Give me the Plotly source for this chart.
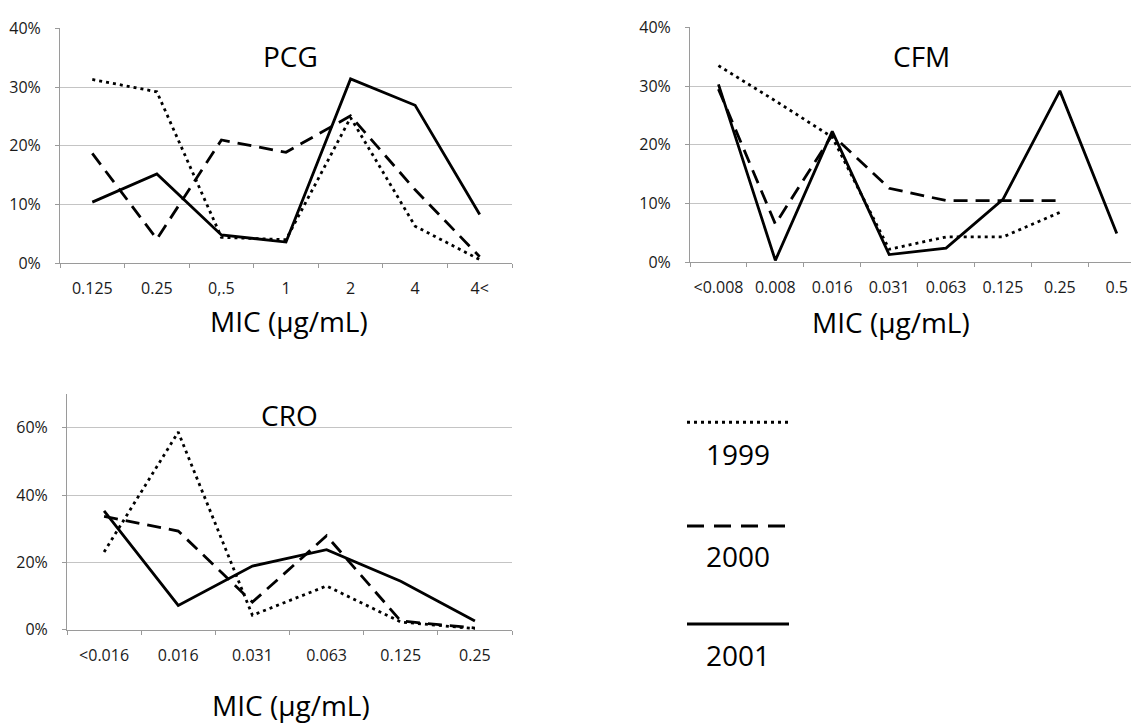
import plotly.graph_objects as go

# ---------------- data ----------------
years = ["1999", "2000", "2001"]

pcg_cats = ["0.125", "0.25", "0,.5", "1", "2", "4", "4<"]
pcg_1999 = [31.3, 29.2, 4.4, 4.0, 24.8, 6.3, 0.6]
pcg_2000 = [18.7, 4.1, 21.0, 18.9, 25.1, 12.5, 1.1]
pcg_2001 = [10.4, 15.2, 4.8, 3.6, 31.4, 26.9, 8.3]

cfm_cats = ["<0.008", "0.008", "0.016", "0.031", "0.063", "0.125", "0.25", "0.5"]
cfm_1999 = [33.5, 27.5, 21.3, 2.2, 4.3, 4.3, 8.5, None]
cfm_2000 = [29.5, 6.5, 21.7, 12.6, 10.5, 10.5, 10.5, None]
cfm_2001 = [30.3, 0.3, 22.3, 1.3, 2.4, 10.7, 29.2, 4.9]

cro_cats = ["<0.016", "0.016", "0.031", "0.063", "0.125", "0.25"]
cro_1999 = [23.1, 58.7, 4.3, 13.0, 2.3, 0.3]
cro_2000 = [33.7, 29.3, 8.2, 27.9, 2.6, 0.5]
cro_2001 = [35.3, 7.2, 18.9, 23.8, 14.4, 2.6]

panel_titles = ["PCG", "CFM", "CRO"]
axis_title = "MIC (µg/mL)"

# ---------------- style ----------------
W, H = 1132, 728
FONT = "Open Sans"
dashes = {"1999": "3px,4px", "2000": "14px,8px", "2001": "solid"}
LW = 2.8


def px_x(x):
    return x / W


def px_y(y):
    return 1 - y / H


def pct(v):
    return [None if a is None else a / 100 for a in v]


fig = go.Figure()

panels = [
    ("x", "y", pcg_cats, [pcg_1999, pcg_2000, pcg_2001]),
    ("x2", "y2", cfm_cats, [cfm_1999, cfm_2000, cfm_2001]),
    ("x3", "y3", cro_cats, [cro_1999, cro_2000, cro_2001]),
]
for xa, ya, cats, series in panels:
    for yr, vals in zip(years, series):
        fig.add_trace(go.Scatter(
            x=cats, y=pct(vals), xaxis=xa, yaxis=ya, mode="lines",
            line=dict(color="black", width=LW, dash=dashes[yr]),
            connectgaps=False, showlegend=False, name=yr,
        ))

grid_col = "#c4c4c4"
axis_col = "#9a9a9a"
tickfont = dict(family=FONT, size=16, color="#1a1a1a")


def xaxis(domain, anchor, cats, rng):
    return dict(domain=domain, anchor=anchor, type="category",
                categoryorder="array", categoryarray=cats, range=rng,
                showgrid=False, showline=True, linecolor=axis_col, linewidth=1,
                ticks="outside", tickson="boundaries", ticklen=4,
                tickcolor=axis_col, tickfont=tickfont, tickangle=0,
                ticklabelstandoff=11, zeroline=False, fixedrange=True)


def yaxis(domain, anchor, rng, dt):
    return dict(domain=domain, anchor=anchor, range=rng, dtick=dt, tick0=0,
                tickformat=".0%", showgrid=True, gridcolor=grid_col,
                gridwidth=1, showline=True, linecolor=axis_col, linewidth=1,
                ticks="outside", ticklen=4, tickcolor=axis_col,
                tickfont=tickfont, ticklabelstandoff=11, zeroline=False,
                fixedrange=True)


fig.update_layout(
    width=W, height=H,
    margin=dict(l=0, r=0, t=0, b=0),
    paper_bgcolor="white", plot_bgcolor="white",
    showlegend=False,
    xaxis=xaxis([px_x(60), px_x(512)], "y", pcg_cats, [-0.5, 6.5]),
    yaxis=yaxis([px_y(260), px_y(18)], "x", [0, 0.40], 0.1),
    xaxis2=xaxis([px_x(690), px_x(1131)], "y2", cfm_cats, [-0.5, 7.25]),
    yaxis2=yaxis([px_y(259), px_y(17)], "x2", [0, 0.40], 0.1),
    xaxis3=xaxis([px_x(67), px_x(512)], "y3", cro_cats, [-0.5, 5.5]),
    yaxis3=yaxis([px_y(638), px_y(395)], "x3", [0, 0.70], 0.2),
)

ann = []
# panel titles
for t, (cx, cy) in zip(panel_titles, [(290, 46), (921, 46), (289, 417)]):
    ann.append(dict(text=t, x=px_x(cx), y=px_y(cy), xref="paper", yref="paper",
                    xanchor="center", yanchor="middle", showarrow=False,
                    font=dict(family=FONT, size=28, color="black")))
# axis titles
for cx, cy in [(289, 320), (891, 321), (291, 716)]:
    ann.append(dict(text=axis_title, x=px_x(cx), y=px_y(cy), xref="paper",
                    yref="paper", xanchor="center", yanchor="middle",
                    showarrow=False,
                    font=dict(family=FONT, size=28, color="black")))

# legend (drawn as key lines + labels)
shapes = []
for yr, ly, ty in [("1999", 424, 457), ("2000", 531, 562), ("2001", 632, 664)]:
    shapes.append(dict(type="line", xref="paper", yref="paper",
                       x0=px_x(687), x1=px_x(789), y0=px_y(ly), y1=px_y(ly),
                       line=dict(color="black", width=3,
                                 dash={"1999": "3px,4px", "2000": "17px,10px",
                                       "2001": "solid"}[yr])))
    ann.append(dict(text=yr, x=px_x(738), y=px_y(ty), xref="paper",
                    yref="paper", xanchor="center", yanchor="middle",
                    showarrow=False,
                    font=dict(family=FONT, size=28, color="black")))

fig.update_layout(annotations=ann, shapes=shapes)

fig.write_html("out.html")
